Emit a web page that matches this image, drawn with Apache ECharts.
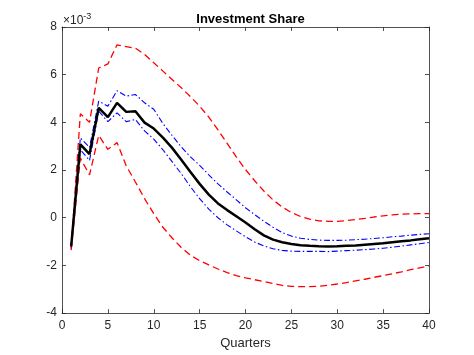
<!DOCTYPE html>
<html>
<head>
<meta charset="utf-8">
<script src="https://cdn.jsdelivr.net/npm/echarts@6/dist/echarts.min.js"></script>
<style>html,body{margin:0;padding:0;background:#fff}#c{width:474px;height:355px}</style>
</head>
<body>
<div id="c"></div>
<script>
// values in units of 1e-3, quarters 1..40
const quarters = Array.from({length: 40}, (_, i) => i + 1);
const median = [-1.2,3.08,2.67,4.61,4.22,4.82,4.44,4.47,3.99,3.74,3.36,2.93,2.43,1.92,1.42,0.97,0.6,0.32,0.06,-0.2,
  -0.48,-0.74,-0.92,-1.03,-1.1,-1.15,-1.18,-1.2,-1.21,-1.2,-1.18,-1.16,-1.13,-1.1,-1.07,-1.03,-0.99,-0.95,-0.9,-0.86];
const upper90 = [-1.3,4.36,4.0,6.28,6.45,7.25,7.18,7.11,6.85,6.5,6.15,5.8,5.45,5.08,4.68,4.22,3.68,3.12,2.55,2.02,
  1.55,1.12,0.75,0.45,0.22,0.05,-0.06,-0.13,-0.15,-0.15,-0.12,-0.08,-0.03,0.03,0.08,0.12,0.15,0.16,0.17,0.17];
const lower90 = [-1.36,2.5,1.8,3.45,2.87,3.15,2.18,1.5,0.8,0.17,-0.4,-0.85,-1.25,-1.57,-1.8,-1.98,-2.15,-2.3,-2.43,-2.52,
  -2.6,-2.68,-2.76,-2.84,-2.88,-2.89,-2.89,-2.87,-2.83,-2.78,-2.72,-2.65,-2.58,-2.5,-2.43,-2.35,-2.27,-2.18,-2.1,-2.02];
const upper68 = [-1.15,3.35,2.95,4.89,4.68,5.33,5.1,5.17,4.82,4.55,3.95,3.45,2.97,2.55,2.2,1.8,1.42,1.08,0.75,0.42,
  0.13,-0.15,-0.4,-0.62,-0.77,-0.86,-0.91,-0.94,-0.95,-0.95,-0.94,-0.92,-0.9,-0.87,-0.84,-0.8,-0.77,-0.73,-0.7,-0.67];
const lower68 = [-1.25,2.85,2.4,4.47,4.03,4.4,4.03,4.12,3.64,3.3,2.85,2.35,1.85,1.3,0.8,0.36,0.0,-0.3,-0.55,-0.8,
  -1.02,-1.18,-1.3,-1.37,-1.4,-1.41,-1.41,-1.41,-1.42,-1.4,-1.38,-1.36,-1.34,-1.31,-1.28,-1.24,-1.19,-1.14,-1.09,-1.04];
const xTicks = [0,5,10,15,20,25,30,35,40];
const yTicks = [-4,-2,0,2,4,6,8];
const titleText = 'Investment Share';
const xLabel = 'Quarters';

const pairs = arr => quarters.map((q, i) => [q, arr[i]]);
const FONT = 'Liberation Sans, Arial, sans-serif';
const AX = '#262626';

const chart = echarts.init(document.getElementById('c'), null, {renderer: 'canvas'});
const axCommon = {
  axisLine: {show: true, onZero: false, lineStyle: {color: AX, width: 0.8}},
  axisTick: {show: true, inside: true, length: 4, lineStyle: {color: AX, width: 0.8}},
  splitLine: {show: false}
};
const mkLine = (name, data, color, width, type, z) => ({
  name, type: 'line', data: pairs(data), symbol: 'none', smooth: false, z,
  lineStyle: {color, width, type}, animation: false
});
chart.setOption({
  animation: false,
  backgroundColor: '#fff',
  title: {text: titleText, left: 245.5, textAlign: 'center', top: 8,
    textStyle: {fontFamily: FONT, fontSize: 13, fontWeight: 'bold', color: '#000'}},
  grid: {left: 62, right: 45, top: 27, bottom: 40},
  xAxis: [
    Object.assign({type: 'value', min: xTicks[0], max: xTicks[xTicks.length-1], interval: 5, position: 'bottom',
      name: xLabel, nameLocation: 'middle', nameGap: 22,
      nameTextStyle: {fontFamily: FONT, fontSize: 13, color: '#262626'},
      axisLabel: {fontFamily: FONT, fontSize: 12, color: '#262626', margin: 7}}, axCommon),
    Object.assign({type: 'value', min: xTicks[0], max: xTicks[xTicks.length-1], interval: 5, position: 'top',
      axisLabel: {show: false}}, axCommon)
  ],
  yAxis: [
    Object.assign({type: 'value', min: yTicks[0], max: yTicks[yTicks.length-1], interval: 2, position: 'left',
      axisLabel: {fontFamily: FONT, fontSize: 12, color: '#262626', margin: 5}}, axCommon),
    Object.assign({type: 'value', min: yTicks[0], max: yTicks[yTicks.length-1], interval: 2, position: 'right',
      axisLabel: {show: false}}, axCommon)
  ],
  graphic: [{
    type: 'text', left: 63, top: 12,
    style: {
      text: '{a|×10}{b|-3}',
      rich: {
        a: {fontFamily: FONT, fontSize: 12, fill: '#262626', verticalAlign: 'bottom'},
        b: {fontFamily: FONT, fontSize: 9, fill: '#262626', verticalAlign: 'top', padding: [0,0,6,0]}
      }
    }
  }],
  series: [
    mkLine('upper90', upper90, '#ff0000', 1.3, [7, 4], 2),
    mkLine('lower90', lower90, '#ff0000', 1.3, [7, 4], 2),
    mkLine('upper68', upper68, '#0000ff', 1.1, [6, 2.5, 1.5, 2.5], 3),
    mkLine('lower68', lower68, '#0000ff', 1.1, [6, 2.5, 1.5, 2.5], 3),
    mkLine('median', median, '#000000', 2.5, 'solid', 4)
  ]
});
</script>
</body>
</html>
